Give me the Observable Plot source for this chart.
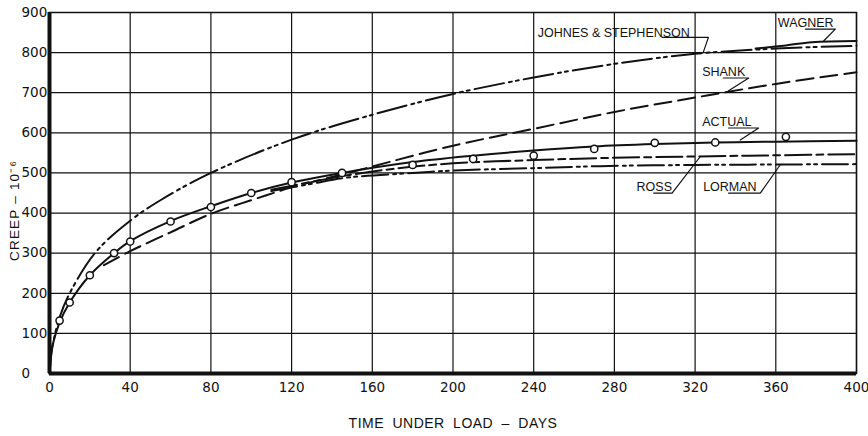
<!DOCTYPE html>
<html>
<head>
<meta charset="utf-8">
<script src="https://cdn.jsdelivr.net/npm/d3@7"></script>
<script src="https://cdn.jsdelivr.net/npm/@observablehq/plot@0.6"></script>
<style>
  html, body { margin: 0; padding: 0; background: #fff; }
  #chart svg { display: block; }
</style>
</head>
<body>
<div id="chart"></div>
<script>
// Axis ticks
const xTicks = [0, 40, 80, 120, 160, 200, 240, 280, 320, 360, 400];
const yTicks = [0, 100, 200, 300, 400, 500, 600, 700, 800, 900];

// Measured creep (circles)
const measuredDays  = [5, 10, 20, 32, 40, 60, 80, 100, 120, 145, 180, 210, 240, 270, 300, 330, 365];
const measuredCreep = [132, 177, 245, 300, 329, 379, 415, 450, 477, 500, 520, 535, 543, 560, 575, 576, 590];

// Curves: days and creep (x 10^-6)
const actualDays  = [0, 1, 2, 5, 10, 20, 32, 40, 60, 80, 100, 120, 145, 180, 210, 240, 270, 300, 330, 360, 400];
const actualCreep = [0, 52, 80, 127, 177, 245, 300, 330, 380, 417, 450, 476, 500, 527, 543, 556, 566, 572, 576, 578, 580];

const johnesDays  = [0, 1, 2, 5, 10, 23, 40, 56, 80, 120, 160, 200, 240, 280, 320, 360, 400];
const johnesCreep = [0, 55, 82, 140, 200, 303, 381, 435, 500, 583, 645, 697, 738, 772, 797, 810, 817];

const wagnerDays  = [350, 365, 378, 400];
const wagnerCreep = [810, 818, 826, 829];

const shankDays  = [27, 40, 60, 80, 100, 120, 145, 160, 200, 240, 280, 320, 360, 400];
const shankCreep = [270, 305, 352, 398, 432, 464, 496, 516, 568, 610, 652, 688, 722, 751];

const rossDays  = [110, 130, 145, 170, 200, 240, 273, 320, 360, 400];
const rossCreep = [458, 478, 492, 510, 524, 532, 537, 541, 544, 547];

const lormanDays  = [110, 130, 145, 180, 200, 240, 273, 320, 360, 400];
const lormanCreep = [455, 473, 487, 500, 506, 512, 517, 520, 521, 522];

// Curve labels, placed in data units, with their underline + leader polylines
const labelNames = ["JOHNES & STEPHENSON", "WAGNER", "SHANK", "ACTUAL", "ROSS", "LORMAN"];
const labelDay   = [242, 361, 323.5, 323.5, 291, 324];
const labelCreep = [849, 875, 751, 626, 464, 464];
const leaderPaths = [
  [[303.6, 838], [326.6, 838], [324, 800]],
  [[374.7, 858.6], [389.5, 858.6], [383.7, 829]],
  [[334, 736.7], [346.6, 736.7], [336.6, 705]],
  [[336.6, 612], [351.5, 612], [342.4, 582]],
  [[299.5, 449.5], [308.6, 449.5], [322.6, 541]],
  [[336.6, 449.5], [352.3, 449.5], [362.3, 521]]
];

const xLabel = "TIME UNDER LOAD – DAYS";
const yLabel = "CREEP – 10⁻⁶";

const toRows = (days, creep) => days.map((d, i) => ({day: d, creep: creep[i]}));
const measured = toRows(measuredDays, measuredCreep);
const labels = labelNames.map((name, i) => ({name, day: labelDay[i], creep: labelCreep[i]}));
const leaders = leaderPaths.flatMap((path, k) => path.map(([day, creep]) => ({k, day, creep})));

const curveMark = (days, creep, dash) => Plot.line(toRows(days, creep), {
  x: "day", y: "creep", curve: "catmull-rom",
  stroke: "#111", strokeWidth: 2, strokeDasharray: dash
});

const chart = Plot.plot({
  width: 868,
  height: 436,
  marginLeft: 49,
  marginRight: 12,
  marginTop: 12,
  marginBottom: 63,
  style: {fontFamily: "'DejaVu Sans', sans-serif", background: "#fff", color: "#111"},
  x: {domain: [0, 400]},
  y: {domain: [0, 900]},
  marks: [
    Plot.gridX(xTicks, {stroke: "#111", strokeOpacity: 1, strokeWidth: 1.2}),
    Plot.gridY(yTicks, {stroke: "#111", strokeOpacity: 1, strokeWidth: 1.2}),
    Plot.frame({stroke: "#111", strokeWidth: 1.5}),
    Plot.ruleX([0], {stroke: "#111", strokeWidth: 4}),
    Plot.ruleY([0], {stroke: "#111", strokeWidth: 4}),

    curveMark(johnesDays, johnesCreep, "30,5,3,4,3,5"),
    curveMark(wagnerDays, wagnerCreep, null),
    curveMark(shankDays, shankCreep, "17,7"),
    curveMark(rossDays, rossCreep, "26,5,7,5"),
    curveMark(lormanDays, lormanCreep, "26,5,3,4,3,5"),
    curveMark(actualDays, actualCreep, null),

    Plot.dot(measured, {x: "day", y: "creep", r: 3.6, stroke: "#111", strokeWidth: 1.5, fill: "#fff"}),

    Plot.line(leaders, {x: "day", y: "creep", z: "k", stroke: "#111", strokeWidth: 1.2}),
    Plot.text(labels, {
      x: "day", y: "creep", text: "name", textAnchor: "start",
      fontFamily: "'Liberation Sans', Arial, sans-serif", fontSize: 12.5, fill: "#111"
    }),

    Plot.axisX(xTicks, {tickSize: 0, tickPadding: 9, fontSize: 13.5, label: null}),
    Plot.axisY(yTicks, {tickSize: 0, textAnchor: "start", dx: -19, fontSize: 13.5, label: null}),

    Plot.text([xLabel], {
      frameAnchor: "bottom", dy: 54, fontSize: 14,
      fontFamily: "'Liberation Sans', Arial, sans-serif"
    }),
    Plot.text([yLabel], {
      frameAnchor: "left", rotate: -90, dx: -35, dy: 68, fontSize: 13.5,
      fontFamily: "'Liberation Sans', Arial, sans-serif"
    })
  ]
});

// Lettering spacing for the two axis titles
chart.querySelectorAll("text").forEach((t) => {
  if (t.textContent === xLabel) {
    t.style.letterSpacing = "0.5px";
    t.style.wordSpacing = "4px";
  } else if (t.textContent === yLabel) {
    t.style.letterSpacing = "1.2px";
  }
});

document.getElementById("chart").appendChild(chart);
</script>
</body>
</html>
